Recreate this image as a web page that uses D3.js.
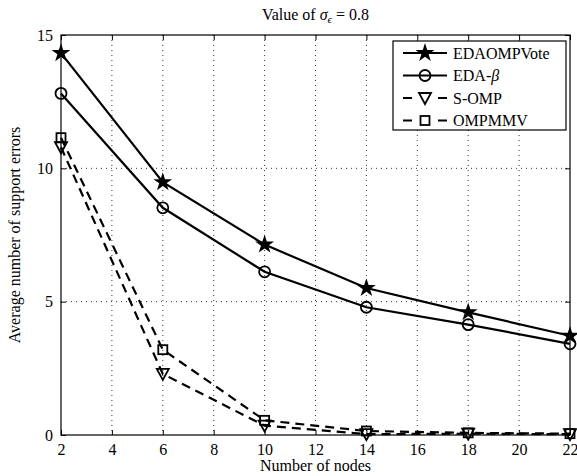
<!DOCTYPE html>
<html>
<head>
<meta charset="utf-8">
<script src="https://cdn.jsdelivr.net/npm/d3@7"></script>
<style>
  body { margin: 0; background: #fff; }
  svg text { font-family: "Liberation Serif", "Times New Roman", "DejaVu Serif", serif !important; fill: #000; }
</style>
</head>
<body>
<script>
// data
const nodes = [2, 6, 10, 14, 18, 22];
const edaOmpVote = [14.32, 9.48, 7.14, 5.51, 4.6, 3.72];
const edaBeta = [12.81, 8.52, 6.12, 4.79, 4.14, 3.42];
const sOmp = [10.79, 2.29, 0.35, 0.03, 0.05, 0.03];
const ompMmv = [11.15, 3.2, 0.55, 0.15, 0.08, 0.05];
const xTicks = [2, 4, 6, 8, 10, 12, 14, 16, 18, 20, 22];
const yTicks = [0, 5, 10, 15];

const series = [
  { name: "EDAOMPVote", values: edaOmpVote, dash: null, marker: "star" },
  { name: "EDA-", greek: "β", values: edaBeta, dash: null, marker: "circle" },
  { name: "S-OMP", values: sOmp, dash: "9,6", marker: "tri" },
  { name: "OMPMMV", values: ompMmv, dash: "9,6", marker: "square" }
];

const W = 577, H = 476;
const margin = { top: 35, right: 7, bottom: 41, left: 61 };
const width = W - margin.left - margin.right;
const height = H - margin.top - margin.bottom;

const svg = d3.select("body").append("svg")
  .attr("width", W).attr("height", H)
  .attr("font-family", "Liberation Serif, serif");

const g = svg.append("g")
  .attr("transform", `translate(${margin.left},${margin.top})`);

const x = d3.scaleLinear().domain([2, 22]).range([0, width]);
const y = d3.scaleLinear().domain([0, 15]).range([height, 0]);

// dotted grid
g.selectAll(".gx").data(xTicks.slice(1, -1)).enter().append("line")
  .attr("x1", d => x(d)).attr("x2", d => x(d))
  .attr("y1", 0).attr("y2", height)
  .attr("stroke", "#000").attr("stroke-width", 0.8)
  .attr("stroke-dasharray", "1,4");
g.selectAll(".gy").data(yTicks.slice(1, -1)).enter().append("line")
  .attr("x1", 0).attr("x2", width)
  .attr("y1", d => y(d)).attr("y2", d => y(d))
  .attr("stroke", "#000").attr("stroke-width", 0.8)
  .attr("stroke-dasharray", "1,4");

// axes, ticks pointing inward on all four sides
const axStyle = sel => {
  sel.attr("font-family", "Liberation Serif, serif").attr("font-size", 16);
  sel.select(".domain").remove();
  sel.selectAll(".tick line").attr("stroke", "#000");
};
g.append("g").attr("transform", `translate(0,${height})`)
  .call(d3.axisBottom(x).tickValues(xTicks).tickSize(-5).tickPadding(9))
  .call(axStyle);
g.append("g")
  .call(d3.axisLeft(y).tickValues(yTicks).tickSize(-5).tickPadding(8))
  .call(axStyle);
g.append("g")
  .call(d3.axisTop(x).tickValues(xTicks).tickSize(-5).tickFormat(""))
  .call(axStyle);
g.append("g").attr("transform", `translate(${width},0)`)
  .call(d3.axisRight(y).tickValues(yTicks).tickSize(-5).tickFormat(""))
  .call(axStyle);
g.append("rect").attr("width", width).attr("height", height)
  .attr("fill", "none").attr("stroke", "#000").attr("stroke-width", 1.2);

// lines
const line = d3.line().x((d, i) => x(nodes[i])).y(d => y(d));

function drawMarker(sel, type) {
  if (type === "star") {
    sel.append("path")
      .attr("d", d3.symbol(d3.symbolStar, 110)())
      .attr("fill", "#000");
  } else if (type === "circle") {
    sel.append("circle").attr("r", 5.5)
      .attr("fill", "none").attr("stroke", "#000").attr("stroke-width", 1.8);
  } else if (type === "tri") {
    sel.append("path").attr("d", "M-6,-5L6,-5L0,6Z")
      .attr("fill", "none").attr("stroke", "#000").attr("stroke-width", 1.8);
  } else {
    sel.append("rect").attr("x", -4.5).attr("y", -4.5)
      .attr("width", 9).attr("height", 9)
      .attr("fill", "none").attr("stroke", "#000").attr("stroke-width", 1.8);
  }
}

series.forEach(s => {
  g.append("path").datum(s.values)
    .attr("d", line)
    .attr("fill", "none").attr("stroke", "#000").attr("stroke-width", 2.2)
    .attr("stroke-dasharray", s.dash);
  s.values.forEach((v, i) => {
    const m = g.append("g").attr("transform", `translate(${x(nodes[i])},${y(v)})`);
    drawMarker(m, s.marker);
  });
});

// legend
const lg = svg.append("g").attr("transform", "translate(393,41)");
lg.append("rect").attr("width", 173).attr("height", 89)
  .attr("fill", "#fff").attr("stroke", "#000").attr("stroke-width", 1.2);
series.forEach((s, i) => {
  const row = lg.append("g").attr("transform", `translate(0,${12 + i * 22.5})`);
  row.append("line").attr("x1", 10).attr("x2", 54).attr("y1", 0).attr("y2", 0)
    .attr("stroke", "#000").attr("stroke-width", 2.2)
    .attr("stroke-dasharray", s.dash ? "9,26" : null);
  const m = row.append("g").attr("transform", "translate(32,0)");
  drawMarker(m, s.marker);
  const t = row.append("text").attr("x", 60).attr("y", 5.5)
    .attr("font-size", 16).text(s.name);
  if (s.greek) t.append("tspan").attr("font-style", "italic").text(s.greek);
});

// title and axis labels
const title = svg.append("text")
  .attr("x", margin.left + width / 2).attr("y", 20)
  .attr("text-anchor", "middle").attr("font-size", 16);
title.append("tspan").text("Value of ");
title.append("tspan").attr("font-style", "italic").text("σ");
title.append("tspan").attr("dy", 3).attr("font-size", 11).attr("font-style", "italic").text("ϵ");
title.append("tspan").attr("dy", -3).text(" = 0.8");

svg.append("text")
  .attr("x", margin.left + width / 2).attr("y", 471)
  .attr("text-anchor", "middle").attr("font-size", 16)
  .text("Number of nodes");

svg.append("text")
  .attr("transform", `translate(20,${margin.top + height / 2}) rotate(-90)`)
  .attr("text-anchor", "middle").attr("font-size", 16)
  .text("Average number of support errors");
</script>
</body>
</html>
